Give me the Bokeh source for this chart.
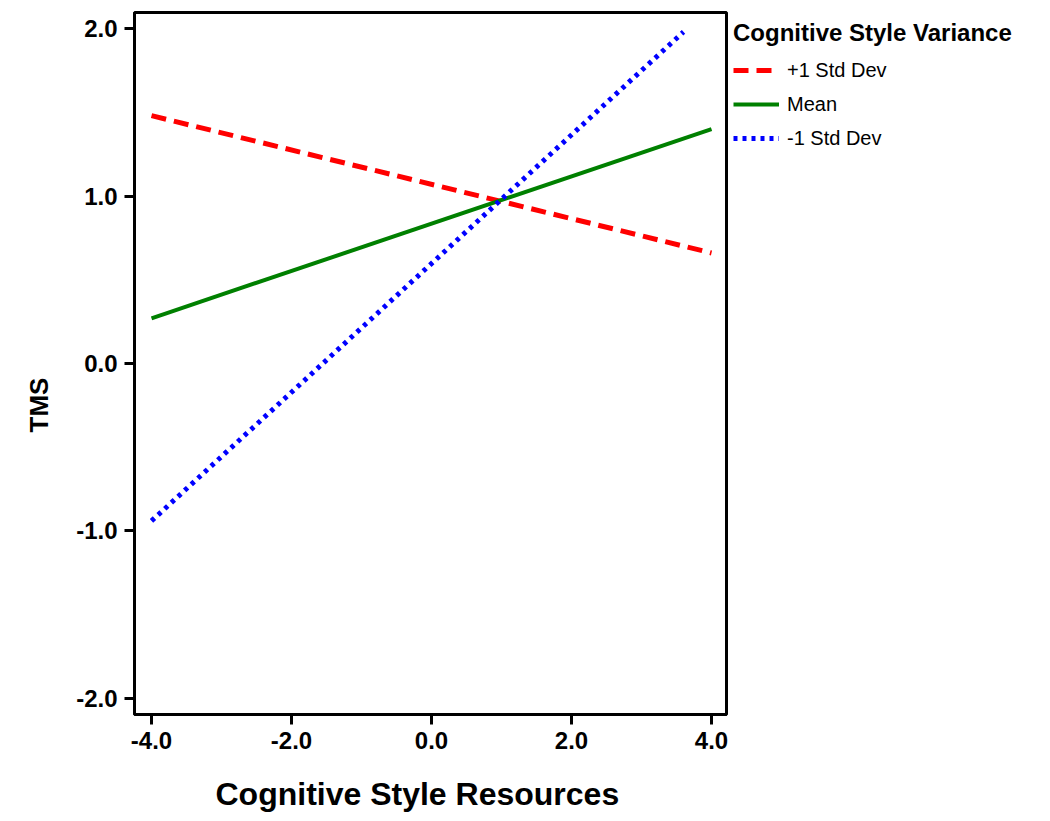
from bokeh.plotting import figure
from bokeh.models import Legend, LegendItem, FixedTicker, PrintfTickFormatter, Range1d, Title
from bokeh.embed import file_html
from bokeh.resources import INLINE

# data
series_names = ["+1 Std Dev", "Mean", "-1 Std Dev"]
x_plus = [-4.0, 4.0]
y_plus = [1.48, 0.66]
x_mean = [-4.0, 4.0]
y_mean = [0.27, 1.40]
x_minus = [-4.0, 3.6]
y_minus = [-0.94, 1.98]
x_ticks = [-4.0, -2.0, 0.0, 2.0, 4.0]
y_ticks = [-2.0, -1.0, 0.0, 1.0, 2.0]
x_title = "Cognitive Style Resources"
y_title = "TMS"

FONT = "Liberation Sans"

p = figure(frame_width=592, frame_height=702, output_backend="svg", toolbar_location=None,
           x_range=Range1d(-4.243, 4.214), y_range=Range1d(-2.096, 2.096),
           min_border_left=134, min_border_right=0, min_border_top=12, min_border_bottom=105)
p.grid.visible = False
p.outline_line_color = "black"
p.outline_line_width = 3
p.background_fill_color = "white"
p.border_fill_color = "white"

r1 = p.line(x_plus, y_plus, line_color="#ff0000", line_width=5, line_dash="15 8")
r2 = p.line(x_mean, y_mean, line_color="#008000", line_width=4)
r3 = p.line(x_minus, y_minus, line_color="#0000ff", line_width=5, line_dash="4 5")

for ax in (p.xaxis[0], p.yaxis[0]):
    ax.axis_line_width = 3
    ax.axis_line_color = "black"
    ax.major_tick_line_width = 3
    ax.major_tick_out = 10
    ax.major_tick_in = 0
    ax.minor_tick_out = 0
    ax.minor_tick_in = 0
    ax.major_label_text_font = FONT
    ax.major_label_text_font_style = "bold"
    ax.major_label_text_font_size = "24px"
    ax.major_label_text_color = "black"
    ax.major_label_standoff = 7
    ax.formatter = PrintfTickFormatter(format="%.1f")

p.xaxis[0].ticker = FixedTicker(ticks=x_ticks)
p.yaxis[0].ticker = FixedTicker(ticks=y_ticks)

xt = Title(text=x_title, align="left", offset=81, standoff=45,
           text_font=FONT, text_font_style="bold", text_font_size="32px", text_color="black")
p.add_layout(xt, "below")
yt = Title(text=y_title, align="left", offset=282, standoff=40,
           text_font=FONT, text_font_style="bold", text_font_size="26px", text_color="black")
p.add_layout(yt, "left")

legend = Legend(items=[LegendItem(label=series_names[0], renderers=[r1]),
                       LegendItem(label=series_names[1], renderers=[r2]),
                       LegendItem(label=series_names[2], renderers=[r3])],
                location="top_left", title="Cognitive Style Variance",
                title_text_font=FONT, title_text_font_style="bold", title_text_font_size="24px",
                title_text_color="black", title_standoff=11,
                label_text_font=FONT, label_text_font_size="20px", label_text_color="black",
                glyph_width=46, glyph_height=24, label_height=24, label_standoff=8, spacing=10,
                padding=0, margin=7, border_line_alpha=0, background_fill_alpha=0)
p.add_layout(legend, "right")

open("out.html", "w").write(file_html(p, INLINE))
